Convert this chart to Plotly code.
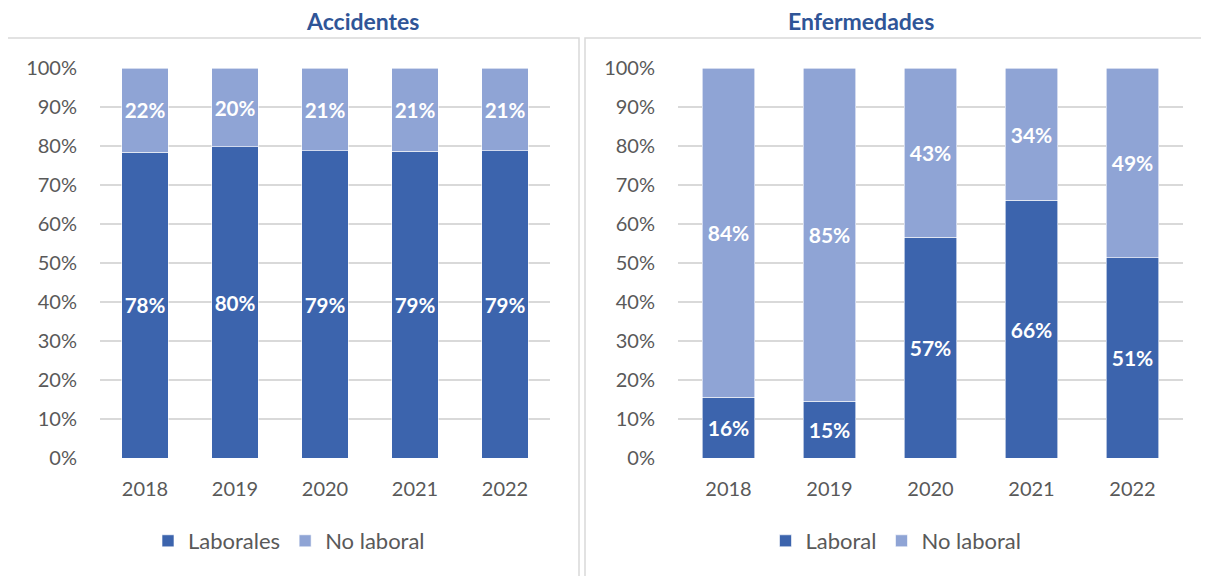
import plotly.graph_objects as go

# ── Data ────────────────────────────────────────────────────────────────────
YEARS = ["2018", "2019", "2020", "2021", "2022"]

ACC_LABORALES = [78.4, 79.8, 78.8, 78.6, 78.8]
ACC_NO_LABORAL = [21.6, 20.2, 21.2, 21.4, 21.2]

ENF_LABORAL = [15.6, 14.6, 56.6, 66.1, 51.3]
ENF_NO_LABORAL = [84.4, 85.4, 43.4, 33.9, 48.7]

# ── Theme ───────────────────────────────────────────────────────────────────
W, H = 1209, 576
OFF = 8  # page body margin
DARK = "#3C64AD"
LIGHT = "#8FA4D5"
TITLE = "#2F5597"
TEXT = "#595959"
GRID = "#D9D9D9"
FONT = "Lato"


def px_x(v):
    return (v - OFF) / W


def px_y(v):
    return 1 - (v - OFF) / H


def bar(x, y, name, color, axis, legend):
    return go.Bar(
        x=x, y=y, name=name,
        marker=dict(color=color, line=dict(color="white", width=0.6)),
        texttemplate="%{y:.0f}%",
        textposition="inside",
        insidetextanchor="middle",
        textangle=0,
        textfont=dict(family=FONT, size=21, color="white", weight="bold"),
        xaxis="x" + axis, yaxis="y" + axis,
        legend=legend,
    )


fig = go.Figure()
fig.add_trace(bar(YEARS, ACC_LABORALES, "Laborales", DARK, "", "legend"))
fig.add_trace(bar(YEARS, ACC_NO_LABORAL, "No laboral", LIGHT, "", "legend"))
fig.add_trace(bar(YEARS, ENF_LABORAL, "Laboral", DARK, "2", "legend2"))
fig.add_trace(bar(YEARS, ENF_NO_LABORAL, "No laboral", LIGHT, "2", "legend2"))

yaxis_common = dict(
    range=[0, 100], dtick=10, ticksuffix="%",
    showgrid=True, gridcolor=GRID, gridwidth=1.5,
    zeroline=False, showline=False,
    tickfont=dict(family=FONT, size=20, color=TEXT),
    ticklabelstandoff=22,
    domain=[px_y(458), px_y(68)],
)
xaxis_common = dict(
    showgrid=False, showline=False, zeroline=False,
    tickfont=dict(family=FONT, size=20, color=TEXT),
    ticklabelstandoff=17,
)
legend_common = dict(
    orientation="h", xanchor="center", yanchor="middle",
    font=dict(family=FONT, size=22, color=TEXT),
    bgcolor="rgba(0,0,0,0)", traceorder="normal",
)

fig.update_layout(
    width=W, height=H,
    paper_bgcolor="white", plot_bgcolor="white",
    margin=dict(l=0, r=0, t=0, b=0, autoexpand=False),
    barmode="stack", bargap=0.48,
    font=dict(family=FONT, color=TEXT),
    xaxis=dict(xaxis_common, domain=[px_x(100), px_x(550)]),
    yaxis=yaxis_common,
    xaxis2=dict(xaxis_common, domain=[px_x(678), px_x(1183)], anchor="y2"),
    yaxis2=dict(yaxis_common, anchor="x2"),
    legend=dict(legend_common, x=px_x(289), y=px_y(541)),
    legend2=dict(legend_common, x=px_x(896), y=px_y(541)),
    showlegend=True,
)

# panel frames
fig.add_shape(type="rect", xref="paper", yref="paper",
              x0=px_x(7), x1=px_x(579), y0=-0.05, y1=px_y(38),
              line=dict(color=GRID, width=1.5), layer="below")
fig.add_shape(type="rect", xref="paper", yref="paper",
              x0=px_x(585), x1=1.05, y0=-0.05, y1=px_y(38),
              line=dict(color=GRID, width=1.5), layer="below")

# panel titles
for text, cx in [("Accidentes", 362), ("Enfermedades", 861)]:
    fig.add_annotation(text=f"<b>{text}</b>", x=px_x(cx), y=px_y(21),
                       xref="paper", yref="paper", showarrow=False,
                       xanchor="center", yanchor="middle",
                       font=dict(family=FONT, size=23, color=TITLE))

fig.write_html("out.html")
